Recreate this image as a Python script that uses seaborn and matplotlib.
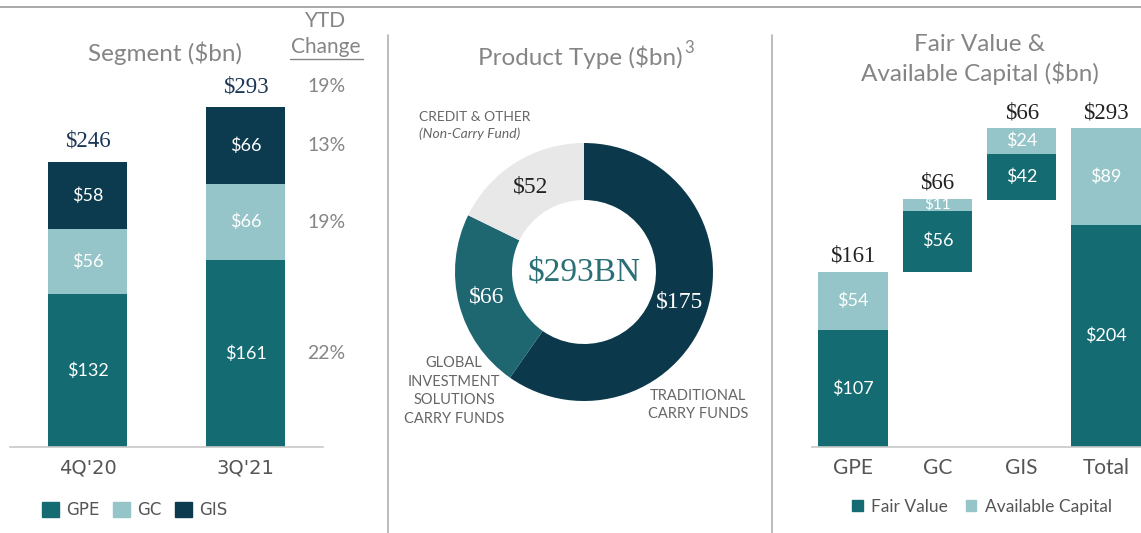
import matplotlib
matplotlib.use("Agg")
import os
import matplotlib.pyplot as plt
import seaborn as sns
import numpy as np
import pandas as pd
from matplotlib.patches import Patch
from matplotlib.lines import Line2D
from matplotlib.font_manager import FontProperties

# ---------------- data ----------------
seg_periods = ["4Q'20", "3Q'21"]
seg_gpe = [132, 161]
seg_gc = [56, 66]
seg_gis = [58, 66]
seg_totals = [246, 293]
ytd_total = "19%"
ytd_gis = "13%"
ytd_gc = "19%"
ytd_gpe = "22%"

prod_names = ["TRADITIONAL\nCARRY FUNDS",
              "GLOBAL\nINVESTMENT\nSOLUTIONS\nCARRY FUNDS",
              "CREDIT & OTHER"]
prod_values = [175, 66, 52]
prod_total_label = "$293BN"

fv_cats = ["GPE", "GC", "GIS", "Total"]
fv_fair = [107, 56, 42, 204]
fv_avail = [54, 11, 24, 89]
fv_totals = [161, 66, 66, 293]

# ---------------- style ----------------
sns.set_theme(style="white")
plt.rcParams['font.family'] = ['Lato', 'DejaVu Sans']

DV_PATH = os.path.join(matplotlib.get_data_path(), "fonts", "ttf", "DejaVuSans.ttf")
DV14 = FontProperties(fname=DV_PATH, size=14)
DV12 = FontProperties(fname=DV_PATH, size=12)

C_GPE = "#146b72"
C_GC = "#95c5c8"
C_GIS = "#0c3a4e"
D_DARK = "#0b394b"
D_MID = "#1e6670"
D_LIGHT = "#e8e8e8"
GRAY = "#858585"
NAVY = "#1b3556"
SERIF = "Liberation Serif"

W, H = 1141, 533
fig = plt.figure(figsize=(W / 100, H / 100), dpi=100)
fig.patch.set_facecolor("white")


def fx(px):
    return px / W


def fy(py):
    return 1 - py / H


# frame lines
fig.add_artist(Line2D([0, 1], [fy(7), fy(7)], color="#9a9a9a", lw=1.2))
fig.add_artist(Line2D([fx(388), fx(388)], [fy(35), 0], color="#b0b0b0", lw=1.2))
fig.add_artist(Line2D([fx(772), fx(772)], [fy(35), 0], color="#b0b0b0", lw=1.2))

# ---------------- left: segment ----------------
axL = fig.add_axes([fx(10), fy(447), (323 - 10) / W, 300 * 1.159 / H])
dfL = pd.DataFrame({"period": seg_periods, "gpe": seg_gpe, "gc": seg_gc, "gis": seg_gis})
gpe = np.array(seg_gpe)
gc = np.array(seg_gc)
gis = np.array(seg_gis)
sns.barplot(data=dfL, x="period", y="gpe", color=C_GPE, width=0.5, saturation=1,
            errorbar=None, linewidth=0, ax=axL)
sns.barplot(data=dfL, x="period", y="gc", bottom=gpe, color=C_GC, width=0.5, saturation=1,
            errorbar=None, linewidth=0, ax=axL)
sns.barplot(data=dfL, x="period", y="gis", bottom=gpe + gc, color=C_GIS, width=0.5, saturation=1,
            errorbar=None, linewidth=0, ax=axL)
axL.set_xlim(-0.49, 1.49)
axL.set_ylim(0, 300)
axL.set_xlabel("")
axL.set_ylabel("")
axL.set_yticks([])
for s in ["left", "right", "top"]:
    axL.spines[s].set_visible(False)
axL.spines["bottom"].set_color("#c8c8c8")
axL.spines["bottom"].set_linewidth(1.2)
axL.tick_params(axis="x", length=0, labelbottom=False)
for i, p in enumerate(seg_periods):
    axL.annotate(p, (i, 0), xytext=(0, -15), textcoords="offset points", ha="center", va="center",
                 fontproperties=DV14, color="#555555", annotation_clip=False)

for i in range(len(seg_periods)):
    axL.text(i, gpe[i] / 2, f"${gpe[i]}", color="white", ha="center", va="center", fontsize=13)
    axL.text(i, gpe[i] + gc[i] / 2, f"${gc[i]}", color="white", ha="center", va="center", fontsize=13)
    axL.text(i, gpe[i] + gc[i] + gis[i] / 2, f"${gis[i]}", color="white", ha="center", va="center", fontsize=13)
    axL.annotate(f"${seg_totals[i]}", (i, seg_totals[i]), xytext=(0, 15), textcoords="offset points",
                 ha="center", va="center", color=NAVY, fontsize=16.5, family=SERIF)

# YTD change column
xc = (326 - 87) / 158
last = len(seg_periods) - 1
axL.annotate(ytd_total, (xc, seg_totals[last]), xytext=(0, 15), textcoords="offset points",
             ha="center", va="center", color=GRAY, fontsize=14, annotation_clip=False)
axL.text(xc, gpe[last] + gc[last] + gis[last] / 2, ytd_gis, ha="center", va="center", color=GRAY, fontsize=14, clip_on=False)
axL.text(xc, gpe[last] + gc[last] / 2, ytd_gc, ha="center", va="center", color=GRAY, fontsize=14, clip_on=False)
axL.text(xc, gpe[last] / 2, ytd_gpe, ha="center", va="center", color=GRAY, fontsize=14, clip_on=False)
fig.text(fx(326), fy(21), "YTD", ha="center", va="center", color=GRAY, fontsize=15)
fig.text(fx(326), fy(47), "Change", ha="center", va="center", color=GRAY, fontsize=15)
fig.add_artist(Line2D([fx(290), fx(363)], [fy(59), fy(59)], color=GRAY, lw=1))

fig.text(fx(165), fy(53), "Segment ($bn)", ha="center", va="center", color=GRAY, fontsize=17.5)

handles = [Patch(color=C_GPE, label="GPE"), Patch(color=C_GC, label="GC"), Patch(color=C_GIS, label="GIS")]
legL = fig.legend(handles=handles, loc="center", bbox_to_anchor=(fx(135), fy(510)), ncol=3, frameon=False,
                  handlelength=1.0, handleheight=1.0, handletextpad=0.45, columnspacing=0.8,
                  prop=DV12)
for t in legL.get_texts():
    t.set_color("#555555")

# ---------------- middle: donut ----------------
axP = fig.add_axes([fx(434), fy(422), 300 / W, 300 / H])
R_OUT, R_IN = 0.86, 0.48
wedges, _ = axP.pie(prod_values, startangle=90, counterclock=False, radius=R_OUT,
                    colors=[D_DARK, D_MID, D_LIGHT],
                    wedgeprops=dict(width=R_OUT - R_IN, linewidth=0))
axP.set_xlim(-1, 1)
axP.set_ylim(-1, 1)
axP.set_aspect("equal")
axP.axis("off")
r_lab = (R_OUT + R_IN) / 2
lab_colors = ["white", "white", "#222222"]
for w, v, c in zip(wedges, prod_values, lab_colors):
    ang = np.deg2rad((w.theta1 + w.theta2) / 2)
    axP.text(r_lab * np.cos(ang), r_lab * np.sin(ang), f"${v}", ha="center", va="center",
             color=c, fontsize=17, family=SERIF)
axP.text(0, 0, prod_total_label, ha="center", va="center", color="#2a6f75", fontsize=24, family=SERIF)

fig.text(fx(683), fy(57), "Product Type ($bn)", ha="right", va="center", color=GRAY, fontsize=17.5)
fig.text(fx(684), fy(48), "3", ha="left", va="center", color=GRAY, fontsize=12)
fig.text(fx(419), fy(117), prod_names[2], ha="left", va="center", color="#666666", fontsize=10)
fig.text(fx(419), fy(134), "(Non-Carry Fund)", ha="left", va="center", color="#666666", fontsize=10, style="italic")
fig.text(fx(454), fy(391), prod_names[1], ha="center", va="center", color="#666666", fontsize=10.5,
         linespacing=1.4)
fig.text(fx(698), fy(405), prod_names[0], ha="center", va="center", color="#666666", fontsize=10.5,
         linespacing=1.4)

# ---------------- right: fair value waterfall ----------------
axR = fig.add_axes([fx(812), fy(447), (1141 - 812) / W, 300 * 1.089 / H])
fair = np.array(fv_fair)
avail = np.array(fv_avail)
cum = np.concatenate([[0], np.cumsum(fv_totals[:-2])])
base = np.concatenate([cum, [0]])
dfR = pd.DataFrame({"cat": fv_cats, "fair": fv_fair, "avail": fv_avail})
sns.barplot(data=dfR, x="cat", y="fair", bottom=base, color=C_GPE, width=0.82, saturation=1,
            errorbar=None, linewidth=0, ax=axR)
sns.barplot(data=dfR, x="cat", y="avail", bottom=base + fair, color=C_GC, width=0.82, saturation=1,
            errorbar=None, linewidth=0, ax=axR)
axR.set_xlim(-0.486, 3.415)
axR.set_ylim(0, 300)
axR.set_xlabel("")
axR.set_ylabel("")
axR.set_yticks([])
for s in ["left", "right", "top"]:
    axR.spines[s].set_visible(False)
axR.spines["bottom"].set_color("#c8c8c8")
axR.spines["bottom"].set_linewidth(1.2)
axR.tick_params(axis="x", length=0, pad=8, labelsize=15, labelcolor="#555555")

for i in range(len(fv_cats)):
    fs = 13 if avail[i] > 15 else 11
    axR.text(i, base[i] + fair[i] / 2, f"${fair[i]}", color="white", ha="center", va="center", fontsize=13)
    axR.text(i, base[i] + fair[i] + avail[i] / 2, f"${avail[i]}", color="white", ha="center", va="center", fontsize=fs)
    axR.annotate(f"${fv_totals[i]}", (i, base[i] + fair[i] + avail[i]), xytext=(0, 11), textcoords="offset points",
                 ha="center", va="center", color="#222222", fontsize=16.5, family=SERIF)

fig.text(fx(980), fy(45), "Fair Value &", ha="center", va="center", color=GRAY, fontsize=17.5)
fig.text(fx(980), fy(73), "Available Capital ($bn)", ha="center", va="center", color=GRAY, fontsize=17.5)

handlesR = [Patch(color=C_GPE, label="Fair Value"), Patch(color=C_GC, label="Available Capital")]
legR = fig.legend(handles=handlesR, loc="center", bbox_to_anchor=(fx(982), fy(507)), ncol=2, frameon=False,
                  handlelength=0.6, handleheight=0.6, handletextpad=0.5, columnspacing=1.0,
                  prop={"size": 12.5})
for t in legR.get_texts():
    t.set_color("#555555")

fig.savefig("out.png", dpi=100, facecolor="white")
